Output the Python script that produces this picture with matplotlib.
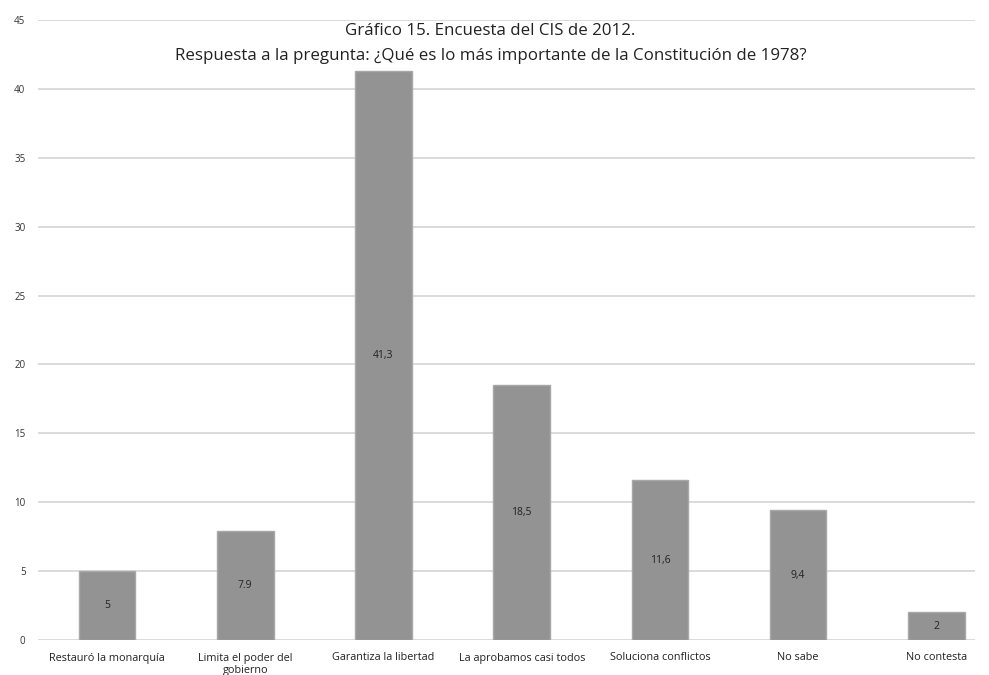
import matplotlib
matplotlib.use("Agg")
import matplotlib.pyplot as plt
import numpy as np

categorias = ["Restauró la monarquía", "Limita el poder del\ngobierno",
              "Garantiza la libertad", "La aprobamos casi todos",
              "Soluciona conflictos", "No sabe", "No contesta"]
valores = [5, 7.9, 41.3, 18.5, 11.6, 9.4, 2]
etiquetas = ["5", "7.9", "41,3", "18,5", "11,6", "9,4", "2"]
yticks = [0, 5, 10, 15, 20, 25, 30, 35, 40, 45]

plt.rcParams['font.family'] = ['Open Sans', 'DejaVu Sans']

fig = plt.figure(figsize=(9.89, 6.75), dpi=100)
ax = fig.add_axes([38/989, 35/675, 937/989, 620/675])

x = np.arange(len(categorias))
bars = ax.bar(x, valores, width=0.41, color="#939393", edgecolor="#a8a8a8",
              linewidth=1, zorder=3)
for b, lab in zip(bars, etiquetas):
    ax.text(b.get_x() + b.get_width()/2, b.get_height()/2, lab,
            ha="center", va="center", fontsize=7.5, color="#222222", zorder=4)

ax.set_xlim(-0.5, 6.28)
ax.set_ylim(0, 45)
ax.set_yticks(yticks)
ax.set_yticklabels([str(t) for t in yticks], fontsize=7, color="#333333")
ax.set_xticks(x)
ax.set_xticklabels(categorias, fontsize=7.8, color="#222222", linespacing=1.15)
ax.tick_params(axis="both", length=0)
ax.tick_params(axis="x", pad=9)
ax.tick_params(axis="y", pad=9)
ax.grid(axis="y", color="#d4d4d4", linewidth=1.2, zorder=0)
for s in ax.spines.values():
    s.set_visible(False)

ax.text(0.483, 0.995, "Gráfico 15. Encuesta del CIS de 2012.\nRespuesta a la pregunta: ¿Qué es lo más importante de la Constitución de 1978?",
        transform=ax.transAxes, ha="center", va="top", fontsize=12.2,
        color="#222222", linespacing=1.75)

fig.savefig("out.png", dpi=100, facecolor="white")
